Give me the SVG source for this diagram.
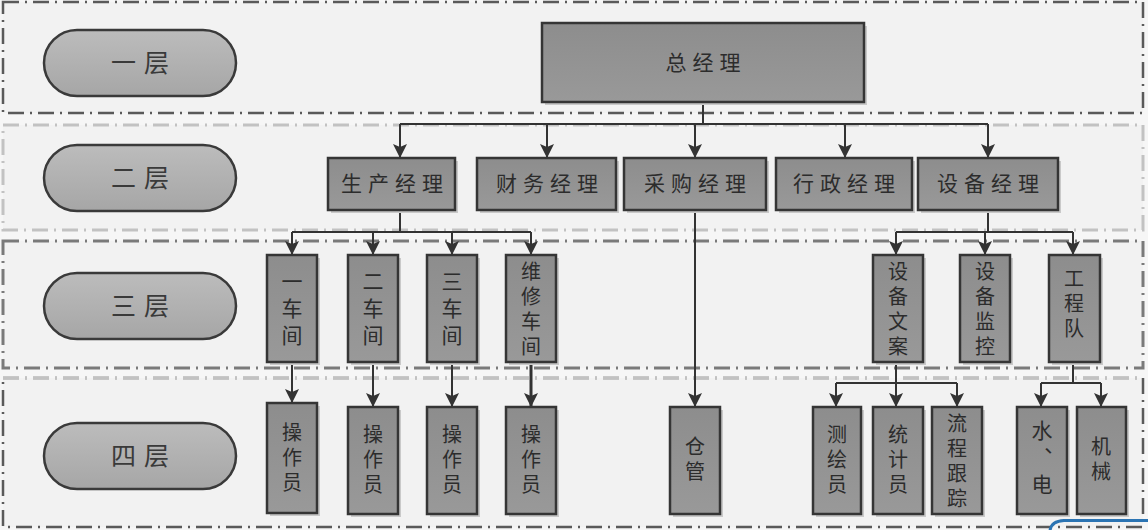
<svg xmlns="http://www.w3.org/2000/svg" width="1148" height="530" viewBox="0 0 1148 530">
<style>
.bg{fill:#f6f6f6}
.band{fill:#f2f2f2;stroke-dasharray:16 6 2 6}
.dk{stroke:#5a5a5a;stroke-width:2.5}
.lt{stroke:#c2c2c2;stroke-width:3}
.md{stroke:#7a7a7a;stroke-width:3}
.pill{fill:url(#pg);stroke:#3a3a3a;stroke-width:2.5}
.box{fill:url(#bg);stroke:#353535;stroke-width:2.5}
.sh{fill:#c9c9c9}
.t{font-family:"Noto Sans CJK SC","Noto Sans",sans-serif;fill:#2c2c2c;text-anchor:middle}
.lay{font-size:25px;letter-spacing:8px;fill:#3a3a3a}
.h{font-size:21px;letter-spacing:6px}
.v{font-size:20px;writing-mode:vertical-rl;letter-spacing:5px}
.v3{font-size:21px;writing-mode:vertical-rl;letter-spacing:6px}
.c{fill:none;stroke:#333;stroke-width:2}
.ca{fill:none;stroke:#333;stroke-width:2;marker-end:url(#ar)}
</style>
<defs>
<linearGradient id="pg" x1="0" y1="0" x2="0" y2="1"><stop offset="0" stop-color="#bcbcbc"/><stop offset="1" stop-color="#a6a6a6"/></linearGradient>
<linearGradient id="bg" x1="0" y1="0" x2="0" y2="1"><stop offset="0" stop-color="#8d8d8d"/><stop offset="1" stop-color="#999"/></linearGradient>
<marker id="ar" viewBox="0 0 12 12" refX="12" refY="6" markerWidth="14" markerHeight="14" markerUnits="userSpaceOnUse" orient="auto"><path d="M0,0 L12,6 L0,12 L2.5,6 z" fill="#333"/></marker>
</defs>
<rect class="bg" x="0" y="0" width="1148" height="530"/>
<g id="bands">
<rect class="band dk" x="3" y="2" width="1140" height="111"/>
<rect class="band lt" x="3" y="125" width="1140" height="105"/>
<rect class="band md" x="3" y="241" width="1140" height="127"/>
<rect class="band dk" x="3" y="378" width="1140" height="149"/>
<line class="lt" x1="3" y1="378" x2="1143" y2="378" stroke-dasharray="16 6 2 6"/>
</g>
<g id="layer1"><rect class="pill" x="44" y="30" width="192" height="66" rx="33"/><text class="t lay" x="144" y="72">一层</text></g>
<g id="layer2"><rect class="pill" x="44" y="145" width="192" height="66" rx="33"/><text class="t lay" x="144" y="187">二层</text></g>
<g id="layer3"><rect class="pill" x="44" y="273" width="192" height="66" rx="33"/><text class="t lay" x="144" y="315">三层</text></g>
<g id="layer4"><rect class="pill" x="44" y="423" width="192" height="66" rx="33"/><text class="t lay" x="144" y="465">四层</text></g>

<g id="connectors">
<path class="c" d="M703,102 V124 M400,124 H988 M400,210 V232 M292,232 H531 M988,210 V232 M896,232 H1073 M896,362 V383 M836,383 H957 M1073,362 V383 M1041,383 H1101"/>
<path class="ca" d="M400,124 V158"/>
<path class="ca" d="M547,124 V158"/>
<path class="ca" d="M695,124 V158"/>
<path class="ca" d="M845,124 V158"/>
<path class="ca" d="M988,124 V158"/>
<path class="ca" d="M292,232 V255"/>
<path class="ca" d="M373,232 V255"/>
<path class="ca" d="M452,232 V255"/>
<path class="ca" d="M531,232 V255"/>
<path class="ca" d="M896,232 V255"/>
<path class="ca" d="M985,232 V255"/>
<path class="ca" d="M1073,232 V255"/>
<path class="ca" d="M292,362 V403"/>
<path class="ca" d="M373,362 V407"/>
<path class="ca" d="M452,362 V407"/>
<path class="ca" d="M531,362 V407" style="stroke-width:3"/>
<path class="ca" d="M695,210 V407"/>
<path class="ca" d="M836,383 V407"/>
<path class="ca" d="M896,383 V407"/>
<path class="ca" d="M957,383 V407"/>
<path class="ca" d="M1041,383 V407"/>
<path class="ca" d="M1101,383 V407"/>
</g>

<g id="zongjingli"><rect class="sh" x="545" y="26" width="322" height="79"/><rect class="box" x="542" y="23" width="322" height="79"/><text class="t h" x="706" y="70">总经理</text></g>

<g id="shengchan"><rect class="sh" x="331" y="161" width="127" height="52"/><rect class="box" x="328" y="158" width="127" height="52"/><text class="t h" x="395" y="191">生产经理</text></g>
<g id="caiwu"><rect class="sh" x="480" y="161" width="139" height="52"/><rect class="box" x="477" y="158" width="139" height="52"/><text class="t h" x="550" y="191">财务经理</text></g>
<g id="caigou"><rect class="sh" x="627" y="161" width="142" height="52"/><rect class="box" x="624" y="158" width="142" height="52"/><text class="t h" x="698" y="191">采购经理</text></g>
<g id="xingzheng"><rect class="sh" x="779" y="161" width="136" height="52"/><rect class="box" x="776" y="158" width="136" height="52"/><text class="t h" x="847" y="191">行政经理</text></g>
<g id="shebei"><rect class="sh" x="921" y="161" width="140" height="52"/><rect class="box" x="918" y="158" width="140" height="52"/><text class="t h" x="991" y="191">设备经理</text></g>

<g id="chejian1"><rect class="sh" x="270" y="258" width="50" height="107"/><rect class="box" x="267" y="255" width="50" height="107"/><text class="t v3" x="292" y="311">一车间</text></g>
<g id="chejian2"><rect class="sh" x="351" y="258" width="50" height="107"/><rect class="box" x="348" y="255" width="50" height="107"/><text class="t v3" x="373" y="311">二车间</text></g>
<g id="chejian3"><rect class="sh" x="430" y="258" width="50" height="107"/><rect class="box" x="427" y="255" width="50" height="107"/><text class="t v3" x="452" y="311">三车间</text></g>
<g id="weixiu"><rect class="sh" x="509" y="258" width="50" height="107"/><rect class="box" x="506" y="255" width="50" height="107"/><text class="t v" x="531" y="311">维修车间</text></g>
<g id="wenan"><rect class="sh" x="876" y="258" width="50" height="107"/><rect class="box" x="873" y="255" width="50" height="107"/><text class="t v" x="898" y="311">设备文案</text></g>
<g id="jiankong"><rect class="sh" x="963" y="258" width="50" height="107"/><rect class="box" x="960" y="255" width="50" height="107"/><text class="t v" x="985" y="311">设备监控</text></g>
<g id="gongcheng"><rect class="sh" x="1052" y="258" width="51" height="107"/><rect class="box" x="1049" y="255" width="51" height="107"/><text class="t v" x="1074" y="306">工程队</text></g>

<g id="czy1"><rect class="sh" x="270" y="406" width="50" height="110"/><rect class="box" x="267" y="403" width="50" height="110"/><text class="t v" x="292" y="460">操作员</text></g>
<g id="czy2"><rect class="sh" x="351" y="410" width="50" height="107"/><rect class="box" x="348" y="407" width="50" height="107"/><text class="t v" x="373" y="462">操作员</text></g>
<g id="czy3"><rect class="sh" x="430" y="410" width="50" height="107"/><rect class="box" x="427" y="407" width="50" height="107"/><text class="t v" x="452" y="462">操作员</text></g>
<g id="czy4"><rect class="sh" x="509" y="410" width="50" height="107"/><rect class="box" x="506" y="407" width="50" height="107"/><text class="t v" x="531" y="462">操作员</text></g>
<g id="cangguan"><rect class="sh" x="673" y="410" width="50" height="107"/><rect class="box" x="670" y="407" width="50" height="107"/><text class="t v" x="695" y="461">仓管</text></g>
<g id="cehui"><rect class="sh" x="816" y="410" width="48" height="107"/><rect class="box" x="813" y="407" width="48" height="107"/><text class="t v" x="837" y="462">测绘员</text></g>
<g id="tongji"><rect class="sh" x="876" y="410" width="50" height="107"/><rect class="box" x="873" y="407" width="50" height="107"/><text class="t v" x="898" y="462">统计员</text></g>
<g id="liucheng"><rect class="sh" x="935" y="410" width="50" height="107"/><rect class="box" x="932" y="407" width="50" height="107"/><text class="t v" x="957" y="463">流程跟踪</text></g>
<g id="shuidian"><rect class="sh" x="1020" y="410" width="50" height="107"/><rect class="box" x="1017" y="407" width="50" height="107"/><text class="t v3" x="1042" y="460">水、电</text></g>
<g id="jixie"><rect class="sh" x="1080" y="410" width="49" height="107"/><rect class="box" x="1077" y="407" width="49" height="107"/><text class="t v" x="1101" y="461">机械</text></g>

<path d="M1050,531 Q1051,521 1064,520.5 L1148,520.5" fill="none" stroke="#2b74b3" stroke-width="3"/>
</svg>
